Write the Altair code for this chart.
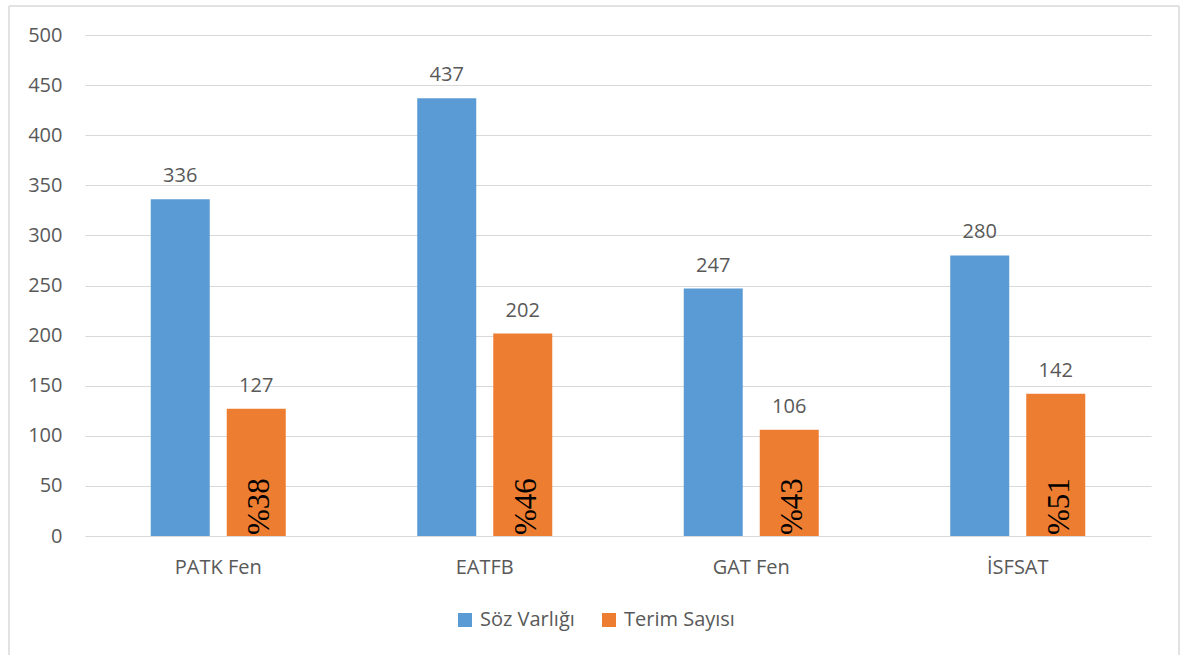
import altair as alt
import pandas as pd

# Source values
categories = ["PATK Fen", "EATFB", "GAT Fen", "İSFSAT"]
series_names = ["Söz Varlığı", "Terim Sayısı"]
soz_varligi = [336, 437, 247, 280]
terim_sayisi = [127, 202, 106, 142]
series_colors = ["#5B9BD5", "#ED7D31"]
y_ticks = list(range(0, 501, 50))

rows = []
for cat, s, t in zip(categories, soz_varligi, terim_sayisi):
    rows.append({"kategori": cat, "seri": series_names[0], "deger": s, "oran": ""})
    rows.append({"kategori": cat, "seri": series_names[1], "deger": t,
                 "oran": "%" + str(round(100 * t / s))})
df = pd.DataFrame(rows)

FONT = "Open Sans"
SERIF = "Liberation Serif"
GRAY = "#595959"
LINE = "#D9D9D9"

x_enc = alt.X("kategori:N", sort=categories, title=None,
              scale=alt.Scale(paddingInner=0.4934, paddingOuter=0.2467),
              axis=alt.Axis(labelAngle=0, domain=False, ticks=False,
                            labelFont=FONT, labelFontSize=20, labelColor=GRAY,
                            labelPadding=21))
xoff_enc = alt.XOffset("seri:N", sort=series_names,
                       scale=alt.Scale(paddingInner=0.2237, paddingOuter=0))
y_scale = alt.Scale(domain=[0, 500], nice=False)

base = alt.Chart(df)

bars = base.mark_bar().encode(
    x=x_enc,
    xOffset=xoff_enc,
    y=alt.Y("deger:Q", scale=y_scale, title=None,
            axis=alt.Axis(values=y_ticks, domain=False, ticks=False,
                          gridColor=LINE, gridWidth=1.2,
                          labelFont=FONT, labelFontSize=20, labelColor=GRAY,
                          labelPadding=23)),
    color=alt.Color("seri:N", sort=series_names,
                    scale=alt.Scale(domain=series_names, range=series_colors),
                    legend=alt.Legend(title=None, orient="none", direction="horizontal",
                                      legendX=370, legendY=575,
                                      symbolType="square", symbolSize=196,
                                      symbolStrokeWidth=0, symbolOpacity=1,
                                      labelFont=FONT, labelFontSize=20,
                                      labelColor=GRAY, labelOffset=5,
                                      columnPadding=24)),
)

values = base.mark_text(font=FONT, fontSize=20, color=GRAY,
                        baseline="alphabetic", dy=-17).encode(
    x=alt.X("kategori:N", sort=categories),
    xOffset=alt.XOffset("seri:N", sort=series_names),
    y=alt.Y("deger:Q", scale=y_scale),
    text="deger:Q",
)

# Share of terms, written upward inside the orange bars
ratios = base.transform_filter(
    alt.datum.seri == series_names[1]
).mark_text(font=SERIF, fontSize=31, color="#000000",
            angle=270, align="left", baseline="middle", dx=1, dy=4).encode(
    x=alt.X("kategori:N", sort=categories),
    xOffset=alt.XOffset("seri:N", sort=series_names),
    y=alt.datum(0),
    text="oran:N",
)

# Thin frame around the chart (top, left and right edges)
frame_df = pd.DataFrame({"k": [0]})
frame_top = alt.Chart(frame_df).mark_rule(color=LINE, strokeWidth=1.5).encode(
    x=alt.value(-76), x2=alt.value(1094), y=alt.value(-29))
frame_left = alt.Chart(frame_df).mark_rule(color=LINE, strokeWidth=1.5).encode(
    x=alt.value(-76), y=alt.value(-29), y2=alt.value(620))
frame_right = alt.Chart(frame_df).mark_rule(color=LINE, strokeWidth=1.5).encode(
    x=alt.value(1094), y=alt.value(-29), y2=alt.value(620))

chart = alt.layer(frame_top, frame_left, frame_right, bars, values, ratios).properties(
    width=1066, height=501,
    padding={"left": 8, "top": 5, "right": 0, "bottom": 0},
    background="white",
).configure_view(strokeWidth=0)

chart.save("out.html", embed_options={"renderer": "svg", "actions": False})
